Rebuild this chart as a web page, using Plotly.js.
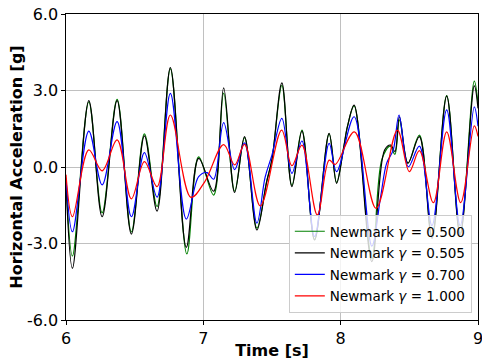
<!DOCTYPE html>
<html>
<head>
<meta charset="utf-8">
<script src="https://cdn.plot.ly/plotly-3.0.1.min.js"></script>
<style>html,body{margin:0;padding:0;background:#fff;}#chart{width:482px;height:360px;}</style>
</head>
<body>
<div id="chart"></div>
<script>
// Series names
const seriesNames = ["Newmark <i>γ</i> = 0.500", "Newmark <i>γ</i> = 0.505", "Newmark <i>γ</i> = 0.700", "Newmark <i>γ</i> = 1.000"];

// gamma = 0.500 (green)
const t_g500 = [6.000, 6.047, 6.166, 6.263, 6.372, 6.476, 6.571, 6.663, 6.760, 6.880, 6.966, 7.075, 7.148, 7.228, 7.300, 7.390, 7.460, 7.500, 7.572, 7.645, 7.718, 7.810, 7.916, 7.970, 8.020, 8.050, 8.098, 8.227, 8.300, 8.360, 8.395, 8.428, 8.490, 8.573, 8.665, 8.772, 8.870, 8.973, 9.000];
const a_g500 = [-0.5, -3.49, 2.55, -1.8, 2.65, -2.55, 1.3, -1.55, 3.85, -3.41, 0.4, -1.1, 2.9, -0.95, 1.15, -2.4, -0.6, 0.3, 3.2, -0.72, 1.45, -2.85, 1.3, -0.6, 0.7, 1.6, 2.4, -3.6, 0.3, 0.82, 0.5, 1.85, 0.15, 1.25, -2.7, 2.8, -2.6, 3.37, 2.5];

// gamma = 0.505 (black)
const t_g505 = [6.000, 6.047, 6.166, 6.263, 6.372, 6.476, 6.571, 6.663, 6.760, 6.876, 6.966, 7.075, 7.148, 7.228, 7.300, 7.390, 7.460, 7.500, 7.572, 7.645, 7.718, 7.810, 7.916, 7.970, 8.020, 8.050, 8.098, 8.227, 8.320, 8.365, 8.395, 8.428, 8.490, 8.573, 8.665, 8.772, 8.870, 8.973, 9.000];
const a_g505 = [-0.6, -3.97, 2.6, -1.95, 2.6, -2.63, 1.22, -1.73, 3.9, -3.15, 0.34, -0.95, 3.1, -1.0, 1.19, -2.47, -0.6, 0.3, 3.3, -0.77, 1.41, -2.86, 1.32, -0.64, 0.7, 1.6, 2.43, -3.71, 0.67, 0.86, 0.6, 1.97, 0.15, 1.19, -2.8, 2.78, -2.67, 3.18, 2.3];

// gamma = 0.700 (blue)
const t_g700 = [6.000, 6.047, 6.166, 6.263, 6.372, 6.476, 6.571, 6.663, 6.760, 6.876, 6.966, 7.027, 7.075, 7.148, 7.228, 7.300, 7.390, 7.450, 7.500, 7.572, 7.645, 7.718, 7.810, 7.916, 7.970, 8.098, 8.227, 8.290, 8.335, 8.383, 8.425, 8.493, 8.573, 8.665, 8.772, 8.870, 8.973, 9.000];
const a_g700 = [-0.45, -2.54, 1.41, -0.7, 1.78, -1.95, 0.56, -1.18, 2.89, -2.04, -0.38, -0.22, -0.48, 1.74, -0.1, 0.95, -2.2, -0.4, 0.47, 1.91, -0.25, 1.02, -2.73, 0.93, -0.18, 1.97, -3.1, -1.2, 0.15, 0.67, 2.04, 0.01, 0.82, -2.3, 2.24, -2.3, 2.36, 1.6];

// gamma = 1.000 (red)
const t_g1000 = [6.000, 6.047, 6.166, 6.263, 6.372, 6.476, 6.571, 6.663, 6.760, 6.910, 7.010, 7.148, 7.228, 7.300, 7.415, 7.570, 7.645, 7.718, 7.830, 7.916, 7.960, 8.100, 8.258, 8.413, 8.500, 8.573, 8.675, 8.772, 8.874, 8.973, 9.000];
const a_g1000 = [-0.3, -1.95, 0.67, -0.15, 1.06, -1.25, 0.21, -0.77, 2.04, -1.19, -0.58, 0.88, 0.08, 0.89, -1.53, 1.45, 0.05, 0.86, -1.88, 0.27, 0.1, 1.38, -1.62, 1.45, -0.18, 0.64, -1.4, 1.38, -1.4, 1.61, 1.2];

// Tick labels
const xTickVals = [6, 7, 8, 9];
const xTickText = ["6", "7", "8", "9"];
const yTickVals = [-6, -3, 0, 3, 6];
const yTickText = ["-6.0", "-3.0", "0.0", "3.0", "6.0"];

const colors = ["#008000", "#000000", "#0000ff", "#ff0000"];
const xs = [t_g500, t_g505, t_g700, t_g1000];
const ys = [a_g500, a_g505, a_g700, a_g1000];

const traces = xs.map((x, i) => ({
  type: "scatter",
  mode: "lines",
  x: x,
  y: ys[i],
  name: seriesNames[i],
  legendgroup: "g" + i,
  line: {color: colors[i], width: 1.2, shape: "spline", smoothing: 1}
}));

const axisCommon = {
  showline: true, mirror: true, linecolor: "#000", linewidth: 1.2,
  showgrid: true, gridcolor: "#b0b0b0", gridwidth: 0.8,
  zeroline: false,
  ticks: "outside", ticklen: 3.5, tickwidth: 1, tickcolor: "#000",
  tickfont: {family: "DejaVu Sans", size: 16, color: "#000"},
  tickmode: "array",
  ticklabeloverflow: "allow"
};

const layout = {
  width: 482, height: 360,
  margin: {l: 66, r: 4, t: 14, b: 40},
  paper_bgcolor: "#fff", plot_bgcolor: "#fff",
  font: {family: "DejaVu Sans", color: "#000"},
  showlegend: true,
  legend: {
    x: 0.985, y: 0.023, xanchor: "right", yanchor: "bottom",
    bgcolor: "rgba(255,255,255,0.8)", bordercolor: "#cccccc", borderwidth: 1,
    font: {family: "DejaVu Sans", size: 13.5, color: "#000"},
    tracegroupgap: 1
  },
  xaxis: Object.assign({}, axisCommon, {
    range: [6, 9], tickvals: xTickVals, ticktext: xTickText,
    title: {text: "<b>Time [s]</b>", font: {family: "DejaVu Sans", size: 16, color: "#000"}, standoff: 8}
  }),
  yaxis: Object.assign({}, axisCommon, {
    range: [-6, 6], tickvals: yTickVals, ticktext: yTickText,
    title: {text: "<b>Horizontal Acceleration [g]</b>", font: {family: "DejaVu Sans", size: 16, color: "#000"}, standoff: 0}
  })
};

Plotly.newPlot("chart", traces, layout, {displayModeBar: false, staticPlot: true});
</script>
</body>
</html>
